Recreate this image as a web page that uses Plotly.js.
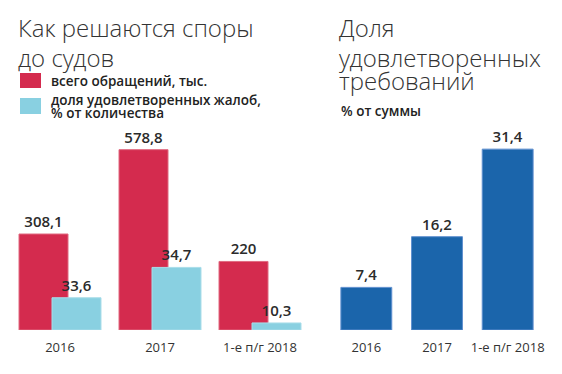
<!DOCTYPE html>
<html>
<head>
<meta charset="utf-8">
<script src="https://cdn.plot.ly/plotly-3.0.1.min.js"></script>
<style>html,body{margin:0;padding:0;background:#fff;}#chart{width:562px;height:374px;}</style>
</head>
<body>
<div id="chart"></div>
<script>
// ---- data ----
const categories = ['2016', '2017', '1-е п/г 2018'];
const totalRequests = [308.1, 578.8, 220];      // всего обращений, тыс.
const satisfiedShare = [33.6, 34.7, 10.3];      // доля удовлетворенных жалоб, % от количества
const claimsShare = [7.4, 16.2, 31.4];          // доля удовлетворенных требований, % от суммы

// blue bars are drawn as the satisfied count on the same scale as the red bars
const satisfiedCount = totalRequests.map((t, i) => t * satisfiedShare[i] / 100);
const fmt = v => String(v).replace('.', ',');

const W = 562, H = 374;
const px = x => x / W;
const py = y => 1 - y / H;

const FONT = '"Open Sans", "DejaVu Sans", sans-serif';
const LIGHT = '"Open Sans Light", "Lato Light", "Roboto Light", "Open Sans", sans-serif';
const labelFont = {family: FONT, size: 15, color: '#2b2b2b', weight: 600};

const traces = [
  {
    type: 'bar', x: categories, y: totalRequests,
    text: totalRequests.map(fmt), textposition: 'outside', texttemplate: '%{text}',
    textfont: labelFont, cliponaxis: false,
    width: 0.49, offset: -0.41,
    marker: {color: '#d42b4e', line: {color: '#e06a80', width: 1}},
    xaxis: 'x', yaxis: 'y', hoverinfo: 'skip', name: 'всего обращений, тыс.'
  },
  {
    type: 'bar', x: categories, y: satisfiedCount,
    text: satisfiedShare.map(fmt), textposition: 'outside', texttemplate: '%{text}',
    textfont: labelFont, cliponaxis: false,
    width: 0.49, offset: -0.08,
    marker: {color: '#89d0e1', line: {color: '#a9dde9', width: 1}},
    xaxis: 'x', yaxis: 'y', hoverinfo: 'skip', name: 'доля удовлетворенных жалоб, % от количества'
  },
  {
    type: 'bar', x: categories, y: claimsShare,
    text: claimsShare.map(fmt), textposition: 'outside', texttemplate: '%{text}',
    textfont: labelFont, cliponaxis: false,
    width: 0.72,
    marker: {color: '#1b65ab', line: {color: '#5f8fcf', width: 1}},
    xaxis: 'x2', yaxis: 'y2', hoverinfo: 'skip', name: 'доля удовлетворенных требований'
  }
];

const tickFont = {family: FONT, size: 13, color: '#333333'};
const axX = d => ({domain: d, range: [-0.5, 2.5], type: 'category', showgrid: false, zeroline: false,
  showline: false, ticks: '', ticklabelstandoff: 8, tickfont: tickFont, fixedrange: true});

const ann = (text, x, y, size, weight, color, fam) => ({
  text, x: px(x), y: py(y), xref: 'paper', yref: 'paper', xanchor: 'left', yanchor: 'middle',
  showarrow: false, align: 'left', font: {family: fam || FONT, size, weight, color}
});

const titleColor = '#333333';
const layout = {
  width: W, height: H,
  margin: {l: 0, r: 0, t: 0, b: 0},
  paper_bgcolor: '#ffffff', plot_bgcolor: '#ffffff',
  showlegend: false,
  barmode: 'overlay',
  xaxis: axX([px(10), px(310)]),
  xaxis2: axX([px(331), px(543)]),
  yaxis: {domain: [py(330), py(111.9)], range: [0, 700], visible: false, fixedrange: true},
  yaxis2: {domain: [py(330), py(128.4)], range: [0, 35], visible: false, anchor: 'x2', fixedrange: true},
  shapes: [
    {type: 'rect', xref: 'paper', yref: 'paper', x0: px(20), x1: px(41), y0: py(73), y1: py(88),
     fillcolor: '#d42b4e', line: {width: 0}},
    {type: 'rect', xref: 'paper', yref: 'paper', x0: px(20), x1: px(41), y0: py(98), y1: py(114),
     fillcolor: '#89d0e1', line: {width: 0}}
  ],
  annotations: [
    ann('Как решаются споры', 16, 28, 24, 300, titleColor, LIGHT),
    ann('до судов', 16, 58, 24, 300, titleColor, LIGHT),
    ann('всего обращений, тыс.', 49, 81, 13.5, 600, '#222222'),
    ann('доля удовлетворенных жалоб,', 49, 100, 13.5, 600, '#222222'),
    ann('% от количества', 49, 113, 13.5, 600, '#222222'),
    ann('Доля', 337, 28, 24, 300, titleColor, LIGHT),
    ann('удовлетворенных', 337, 58, 24, 300, titleColor, LIGHT),
    ann('требований', 337, 81, 24, 300, titleColor, LIGHT),
    ann('% от суммы', 339, 111, 13.5, 600, '#222222')
  ]
};

Plotly.newPlot('chart', traces, layout, {staticPlot: true, displayModeBar: false});
</script>
</body>
</html>
